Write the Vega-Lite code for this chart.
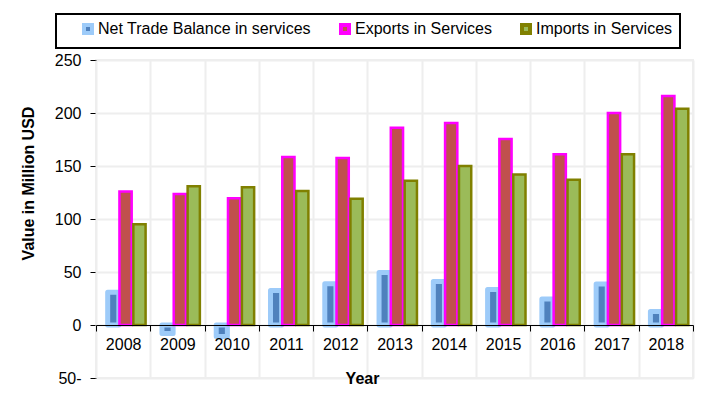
{
  "$schema": "https://vega.github.io/schema/vega-lite/v6.json",
  "width": 597,
  "height": 318,
  "autosize": {"type": "none"},
  "padding": {"left": 96, "top": 60, "right": 25, "bottom": 22},
  "background": "white",
  "config": {
    "font": "Liberation Sans",
    "view": {"stroke": "#EEEEEE", "strokeWidth": 2},
    "legend": {
      "orient": "none",
      "legendX": -40,
      "legendY": -46,
      "direction": "horizontal",
      "titleOrient": "left",
      "titleFontSize": 1,
      "titlePadding": 17,
      "padding": 7,
      "strokeColor": "black",
      "strokeWidth": 2,
      "labelFontSize": 16,
      "labelColor": "black",
      "labelFont": "Liberation Sans",
      "labelLimit": 500,
      "labelOffset": 2,
      "symbolType": "square",
      "symbolSize": 64,
      "symbolStrokeWidth": 4,
      "columnPadding": 22
    }
  },
  "data": {
    "values": [
      {"Year": "2008", "Series": "Net Trade Balance in services", "Value": 31},
      {"Year": "2008", "Series": "Exports in Services", "Value": 126},
      {"Year": "2008", "Series": "Imports in Services", "Value": 95},
      {"Year": "2009", "Series": "Net Trade Balance in services", "Value": -8},
      {"Year": "2009", "Series": "Exports in Services", "Value": 123.5},
      {"Year": "2009", "Series": "Imports in Services", "Value": 131},
      {"Year": "2010", "Series": "Net Trade Balance in services", "Value": -10.8},
      {"Year": "2010", "Series": "Exports in Services", "Value": 119.5},
      {"Year": "2010", "Series": "Imports in Services", "Value": 130},
      {"Year": "2011", "Series": "Net Trade Balance in services", "Value": 32.5},
      {"Year": "2011", "Series": "Exports in Services", "Value": 158.5},
      {"Year": "2011", "Series": "Imports in Services", "Value": 126.5},
      {"Year": "2012", "Series": "Net Trade Balance in services", "Value": 39},
      {"Year": "2012", "Series": "Exports in Services", "Value": 157.5},
      {"Year": "2012", "Series": "Imports in Services", "Value": 119},
      {"Year": "2013", "Series": "Net Trade Balance in services", "Value": 49.5},
      {"Year": "2013", "Series": "Exports in Services", "Value": 186},
      {"Year": "2013", "Series": "Imports in Services", "Value": 136},
      {"Year": "2014", "Series": "Net Trade Balance in services", "Value": 41},
      {"Year": "2014", "Series": "Exports in Services", "Value": 190.5},
      {"Year": "2014", "Series": "Imports in Services", "Value": 150},
      {"Year": "2015", "Series": "Net Trade Balance in services", "Value": 33.5},
      {"Year": "2015", "Series": "Exports in Services", "Value": 175.5},
      {"Year": "2015", "Series": "Imports in Services", "Value": 142},
      {"Year": "2016", "Series": "Net Trade Balance in services", "Value": 24.5},
      {"Year": "2016", "Series": "Exports in Services", "Value": 161},
      {"Year": "2016", "Series": "Imports in Services", "Value": 137},
      {"Year": "2017", "Series": "Net Trade Balance in services", "Value": 38.7},
      {"Year": "2017", "Series": "Exports in Services", "Value": 200},
      {"Year": "2017", "Series": "Imports in Services", "Value": 161},
      {"Year": "2018", "Series": "Net Trade Balance in services", "Value": 12.7},
      {"Year": "2018", "Series": "Exports in Services", "Value": 216},
      {"Year": "2018", "Series": "Imports in Services", "Value": 204}
    ]
  },
  "encoding": {
    "x": {
      "field": "Year",
      "type": "ordinal",
      "scale": {"paddingInner": 0, "paddingOuter": 0},
      "axis": {
        "title": "Year",
        "titleFontSize": 16,
        "titleFontWeight": "bold",
        "titleColor": "black",
        "titleX": 266,
        "titleY": 45,
        "titleBaseline": "top",
        "titleAlign": "center",
        "offset": -53,
        "labelAngle": 0,
        "labelFontSize": 16,
        "labelColor": "black",
        "labelPadding": 5,
        "labelBaseline": "top",
        "tickColor": "black",
        "tickSize": 6,
        "domainColor": "black",
        "tickBand": "extent",
        "grid": true,
        "gridColor": "#EEEEEE",
        "gridWidth": 2,
        "zindex": 1
      }
    },
    "xOffset": {
      "field": "Series",
      "scale": {
        "domain": ["Net Trade Balance in services", "Exports in Services", "Imports in Services"],
        "paddingInner": 0,
        "paddingOuter": 0.45
      }
    },
    "y": {
      "field": "Value",
      "type": "quantitative",
      "scale": {"domain": [-50, 250], "nice": false, "zero": false},
      "axis": {
        "title": "Value in Million USD",
        "titleFontSize": 16,
        "titleFontWeight": "bold",
        "titleColor": "black",
        "titleX": -60,
        "titleY": 123,
        "values": [-50, 0, 50, 100, 150, 200, 250],
        "labelFontSize": 16,
        "labelColor": "black",
        "labelPadding": 9,
        "labelExpr": "datum.value < 0 ? '50-' : datum.label",
        "tickSize": 6,
        "tickColor": "black",
        "domainColor": "black",
        "gridColor": "#EEEEEE",
        "gridWidth": 2
      }
    },
    "fill": {
      "field": "Series",
      "type": "nominal",
      "scale": {
        "domain": ["Net Trade Balance in services", "Exports in Services", "Imports in Services"],
        "range": ["#4F81BD", "#C0504D", "#9BBB59"]
      },
      "legend": {
        "title": "\u00a0",
        "labelExpr": "datum.value == 'Imports in Services' ? 'Imports in Services\u00a0\u00a0\u00a0\u00a0' : datum.value"
      }
    },
    "stroke": {
      "field": "Series",
      "type": "nominal",
      "scale": {
        "domain": ["Net Trade Balance in services", "Exports in Services", "Imports in Services"],
        "range": ["#9DCBF9", "#FF00FF", "#808000"]
      },
      "legend": {
        "title": "\u00a0",
        "labelExpr": "datum.value == 'Imports in Services' ? 'Imports in Services\u00a0\u00a0\u00a0\u00a0' : datum.value"
      }
    }
  },
  "layer": [
    {
      "transform": [{"filter": "datum.Series == 'Net Trade Balance in services'"}],
      "mark": {"type": "bar", "width": {"band": 0.8}, "strokeWidth": 5, "strokeJoin": "round"}
    },
    {
      "transform": [{"filter": "datum.Series != 'Net Trade Balance in services'"}],
      "mark": {"type": "bar", "width": {"band": 0.88}, "strokeWidth": 2.5}
    }
  ]
}
